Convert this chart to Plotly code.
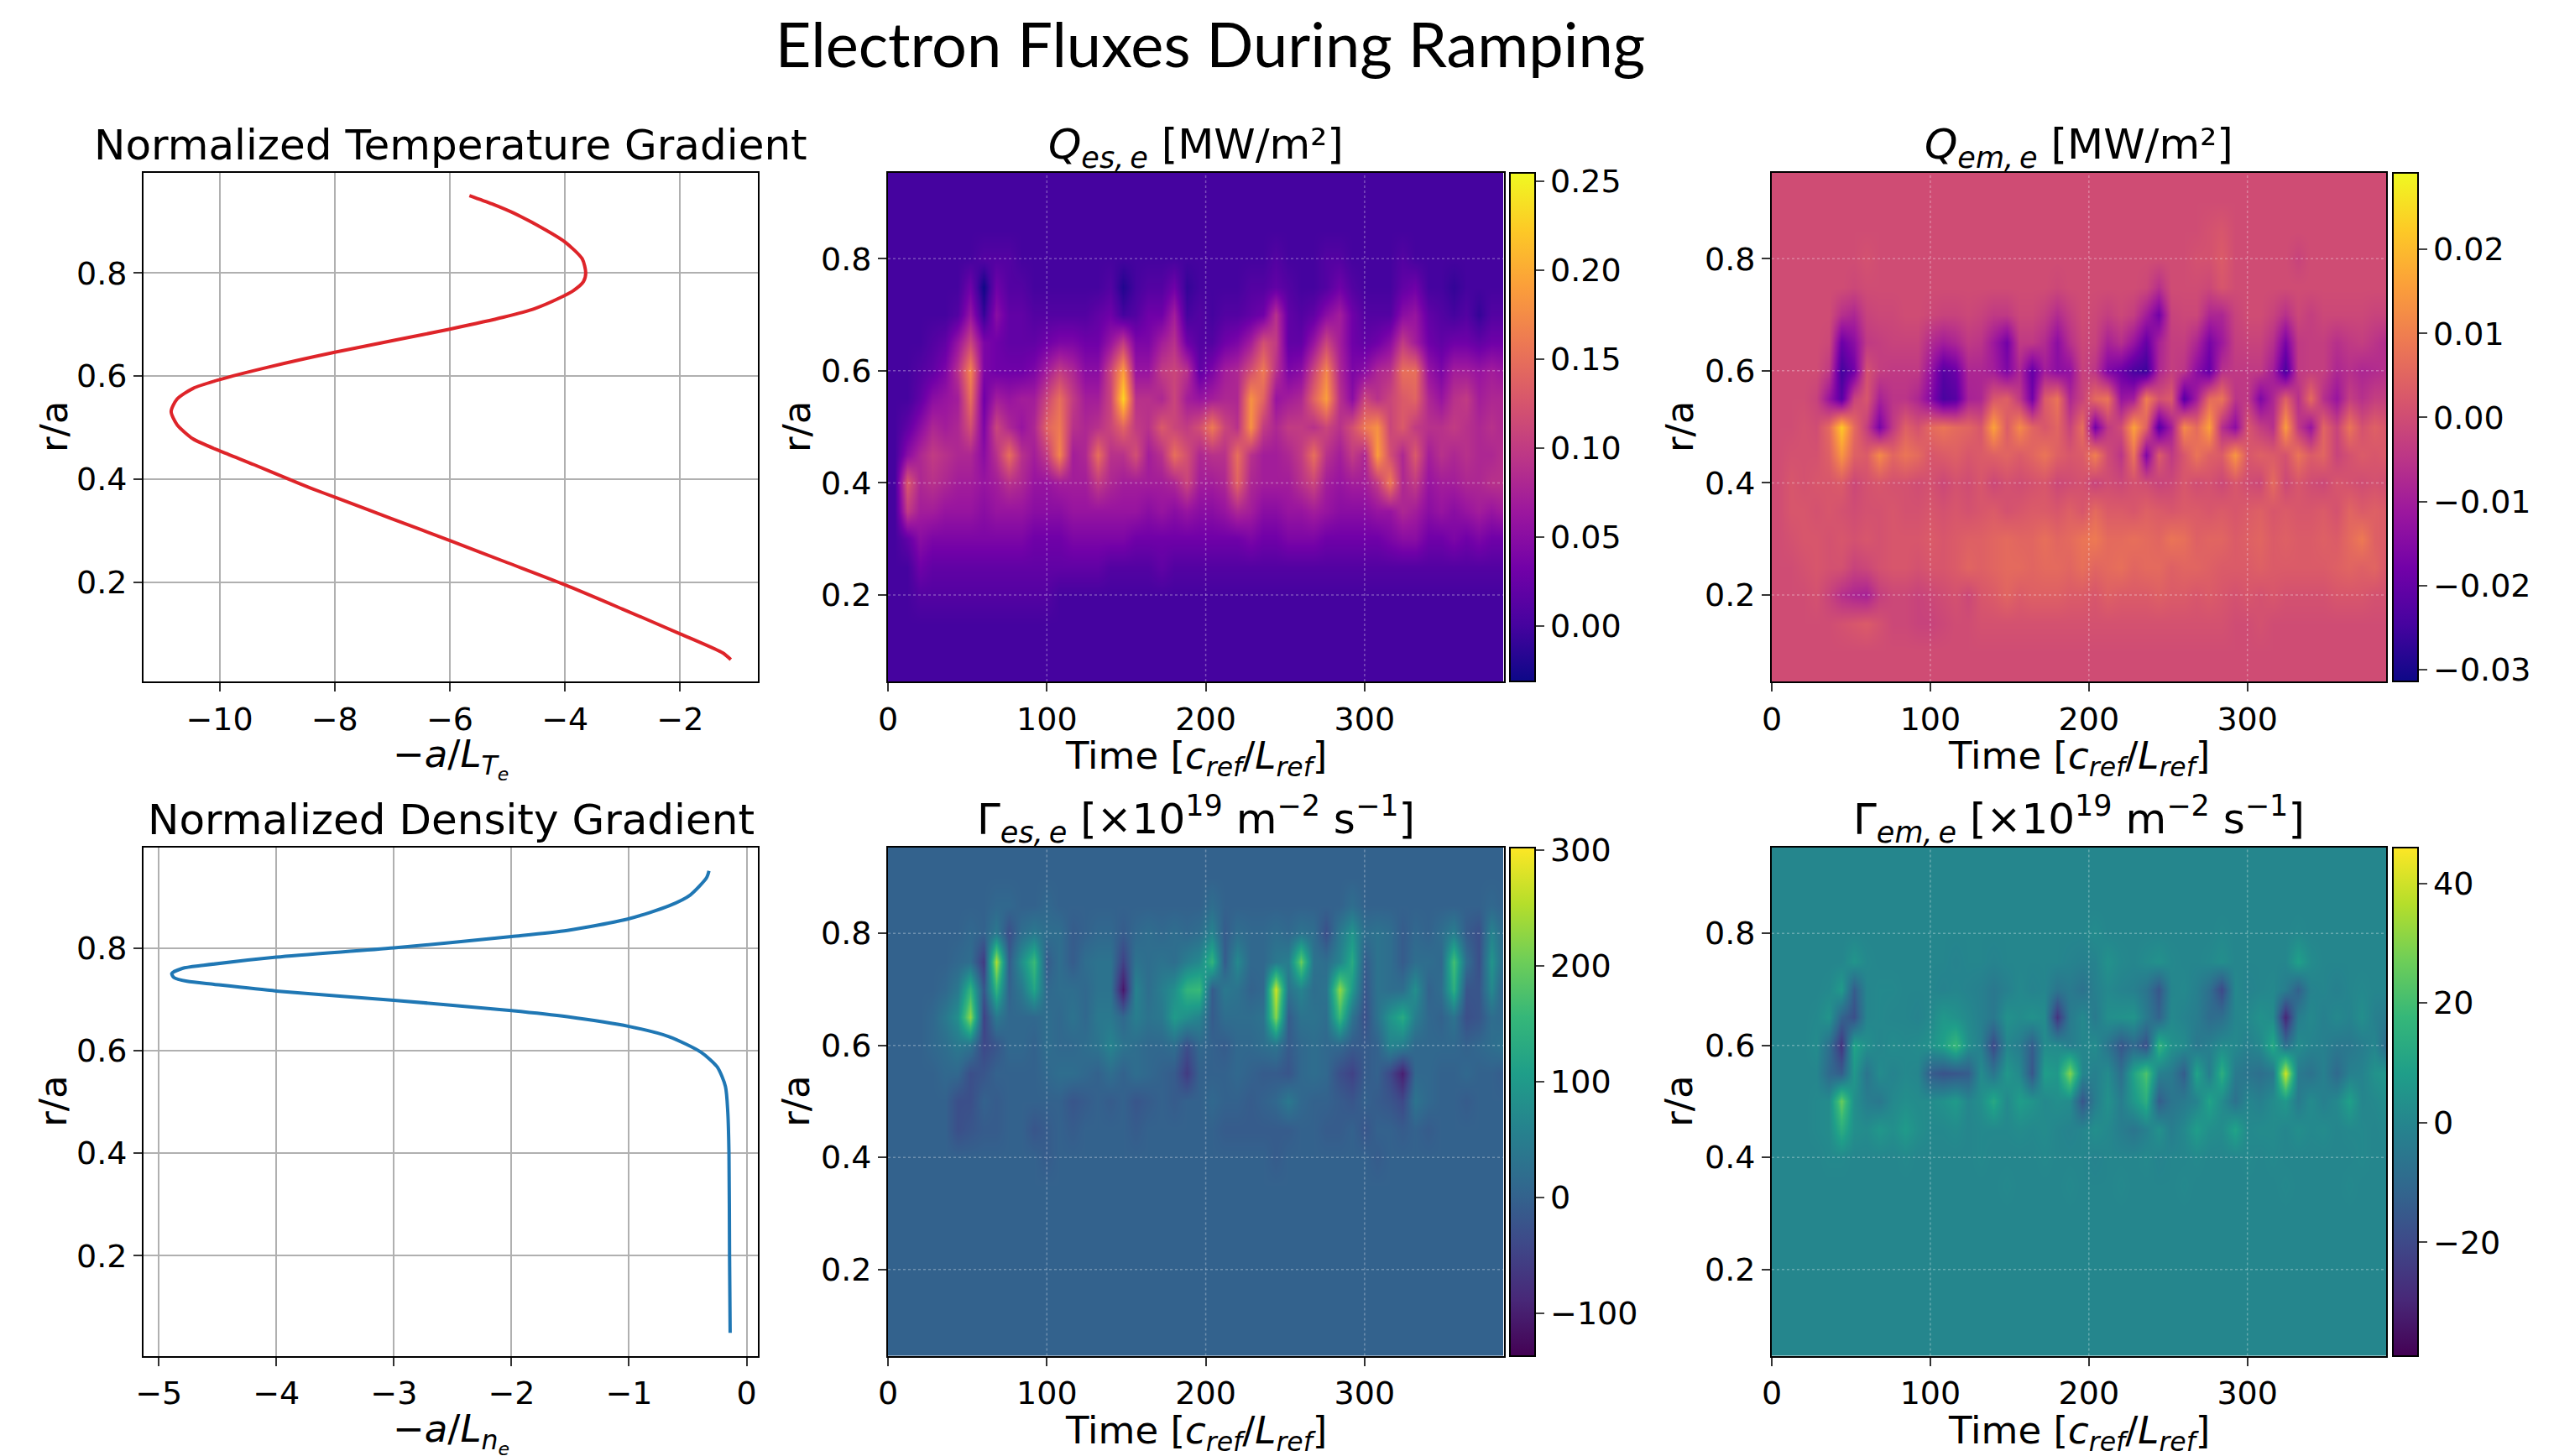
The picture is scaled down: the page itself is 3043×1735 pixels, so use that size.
import numpy as np
import plotly.graph_objects as go

W, H = 3043, 1735
OX, OY = 8, 8          # the page's own margin
FW, FH = W - 16, H - 8
FONT = "DejaVu Sans"

# ---------- profile curves ----------
TE_GRAD = [-5.66, -5.27, -4.89, -4.33, -4.0, -3.7, -3.64, -3.68, -3.85, -4.1, -4.52, -5.07, -6.0, -6.93, -8.0, -9.16, -10.0,
           -10.46, -10.74, -10.84, -10.74, -10.46, -10.0, -9.4, -8.8, -8.4, -8.0, -7.0, -6.0, -5.0, -4.0, -3.0, -2.0, -1.26, -1.12]
TE_R = [0.95, 0.934, 0.916, 0.883, 0.86, 0.827, 0.80, 0.783, 0.766, 0.751, 0.731, 0.714, 0.691, 0.67, 0.646, 0.617, 0.593,
        0.576, 0.555, 0.531, 0.506, 0.478, 0.455, 0.428, 0.40, 0.382, 0.365, 0.323, 0.281, 0.238, 0.195, 0.148, 0.10, 0.063, 0.05]
NE_GRAD = [-0.32, -0.34, -0.48, -0.66, -1.0, -1.525, -2.0, -3.0, -4.0, -4.62, -4.8, -4.89, -4.87, -4.76, -4.53,
           -4.0, -3.0, -2.0, -1.525, -1.0, -0.66, -0.39, -0.25, -0.18, -0.16, -0.15, -0.145, -0.14]
NE_R = [0.95, 0.937, 0.903, 0.882, 0.857, 0.834, 0.822, 0.80, 0.782, 0.766, 0.76, 0.75, 0.742, 0.735, 0.729,
        0.716, 0.698, 0.678, 0.666, 0.647, 0.627, 0.597, 0.568, 0.53, 0.48, 0.40, 0.20, 0.05]

# ---------- heat-map grid ----------
TIME = [4, 12, 20, 28, 36, 44, 52, 60, 68, 76, 84, 92, 100, 108, 116, 124, 132, 140, 148, 156, 164, 172, 180, 188, 196,
        204, 212, 220, 228, 236, 244, 252, 260, 268, 276, 284, 292, 300, 308, 316, 324, 332, 340, 348, 356, 364, 372, 380, 388]
RADIUS = [0.95, 0.90, 0.85, 0.80, 0.75, 0.70, 0.65, 0.60, 0.55, 0.50, 0.45, 0.40, 0.35, 0.30, 0.25, 0.20, 0.15, 0.10, 0.05]
FLAT = [0] * 49

# Q_es, units of 0.01 MW/m2, estimated cell by cell
QES = [
    FLAT, FLAT, FLAT,
    [0,0,0,0,0,0,0, 1,1,1,0,0,0,0, 0,0,0,0,0,0,0, 0,0,0,0,0,0,0, 0,0,1,0,0,0,1, 1,0,0,0,0,1,0, 0,0,0,0,0,0,0],
    [0,0,0,0,0,0,3, -3,3,1,1,0,0,0, 0,0,0,1,-2,0,1, 1,3,-1,0,0,0,0, 1,1,2,1,0,0,1, 3,1,0,0,0,2,3, 0,0,-1,0,0,0,0],
    [0,0,0,0,0,1,6, -1,5,2,2,1,1,1, 1,1,2,3,0,1,3, 3,7,0,1,0,1,1, 2,3,9,2,1,2,5, 7,3,1,1,1,5,6, 2,1,0,1,-1,1,1],
    [0,0,0,1,2,6,11, 4,3,2,2,2,3,4, 4,3,3,6,10,4,4, 7,9,3,1,1,3,4, 7,12,10,2,2,6,11, 7,3,2,3,5,10,7, 3,2,3,3,2,3,3],
    [0,0,1,2,4,9,17, 4,3,3,3,4,7,10, 8,5,5,11,19,6,6, 10,11,9,2,4,7,8, 12,16,9,4,5,11,17, 8,4,5,8,9,15,15, 6,4,7,7,6,7,6],
    [0,0,2,5,6,7,15, 3,7,6,7,7,11,15, 10,7,7,11,23,9,9, 8,11,7,6,7,8,8, 18,14,6,7,8,14,19, 9,5,11,9,11,13,14, 8,6,9,10,7,8,8],
    [0,2,5,8,7,8,12, 4,11,8,6,8,14,16, 9,8,9,11,14,10,9, 13,11,10,12,16,11,9, 18,10,8,10,10,9,11, 9,12,16,18,11,13,10, 9,9,10,9,8,9,8],
    [0,5,8,10,9,8,8, 5,9,15,9,7,10,17, 7,8,15,9,9,12,7, 9,15,12,8,9,9,15, 9,7,7,8,10,15,9, 7,10,8,19,12,8,13, 7,9,8,9,8,8,9],
    [0,13,8,9,8,7,7, 6,7,9,8,6,6,7, 7,7,10,8,7,7,7, 7,8,11,7,7,8,14, 8,7,7,7,9,11,7, 6,7,7,10,16,8,10, 6,7,7,8,8,9,9],
    [0,10,7,7,6,6,6, 5,6,6,6,5,5,5, 6,6,6,6,6,6,5, 6,5,6,5,5,6,8, 7,5,5,6,6,7,6, 5,5,5,6,6,8,7, 5,6,5,6,7,6,7],
    [0,2,5,4,4,4,4, 4,4,4,4,3,3,3, 4,4,4,4,4,3,3, 3,3,3,3,3,3,3, 4,3,3,4,4,4,3, 3,3,3,3,4,5,5, 3,3,4,3,4,3,3],
    [0,0,3,2,2,2,2, 2,2,2,2,2,2,2, 2,2,2,1,1,1,1, 2,1,1,1,1,1,1, 1,1,1,1,1,1,1, 1,1,1,1,1,1,1, 1,1,1,1,1,1,1],
    [0,0,1,1,1,1,1, 1,1,1,1,1,1,0, 0,0,0,0,0,0,0, 0,0,0,0,0,0,0, 0,0,0,0,0,0,0, 0,0,0,0,0,0,0, 0,0,0,0,0,0,0],
    FLAT, FLAT, FLAT,
]

# Q_em, units of 0.001 MW/m2
QEM = [
    FLAT, FLAT,
    [0,0,0,0,0,0,0, 0,0,0,0,0,0,0, 0,0,0,0,0,0,0, 0,0,0,0,0,0,0, 0,0,0,0,0,0,1, 2,0,0,0,0,0,0, 0,0,0,0,0,0,0],
    [0,0,0,0,0,0,0, 1,0,0,0,0,0,0, 0,0,0,0,0,0,0, 0,0,0,0,0,0,0, 0,0,0,0,0,1,1, 3,0,0,0,0,0,-2, 0,0,0,0,0,0,0],
    [0,0,0,0,0,0,-1, 0,0,0,0,0,0,0, 0,0,0,0,0,0,0, 0,-1,0,0,0,0,0, 0,-1,-6,0,0,0,-1, 2,0,0,0,0,0,0, 0,0,0,0,0,0,0],
    [0,0,0,0,0,-6,-8, -2,-1,-1,0,0,-1,-2, -2,-1,-2,-4,-4,-1,-1, -3,-7,-3,0,-1,-3,-1, -3,-10,-18,-2,-1,-1,-8, -8,-2,0,0,-2,-6,-1, -3,-1,-1,-1,-1,-2,-2],
    [0,0,0,0,-1,-19,-14, -4,-3,-2,-2,-2,-7,-10, -8,-4,-5,-11,-18,-4,-4, -7,-14,-6,-1,-2,-9,-6, -12,-20,-9,-3,-3,-8,-17, -11,-3,-2,-2,-6,-17,-4, -3,-3,-6,-4,-3,-5,-7],
    [0,0,0,0,-4,-25,-18, 1,-3,-4,-4,-4,-12,-22, -19,-8,-8,-10,-16,-8,-20, -10,-14,-13,-2,-5,-16,-19, -24,-26,-8,-3,-5,-14,-20, -6,-4,-4,-4,-10,-24,-4, -3,-3,-8,-6,-8,-7,-6],
    [0,0,0,-2,-12,-22,-2, 2,-9,-5,-5,-8,-15,-24, -22,-9,-8,2,4,-4,-18, 3,8,-8,-2,6,8,-12, -10,10,1,3,-22,-10,6, 8,-5,-4,-16,-8,4,-6, 6,-6,-12,-3,-6,-3,-3],
    [0,0,1,0,6,22,6, -3,-17,-4,4,1,6,8, 6,5,2,16,3,12,5, 2,5,-2,7,-18,-4,0, 16,4,-22,-10,12,6,16, -6,-14,2,-3,-6,15,-4, -12,5,-2,8,1,4,2],
    [0,1,1,1,4,14,4, 3,12,5,8,6,2,3, 4,2,3,4,5,3,5, 8,4,2,3,10,0,-5, 8,-16,3,-4,2,8,4, 3,14,2,4,3,1,8, 3,5,-2,1,3,2,3],
    [0,2,1,2,2,3,-1, 1,2,1,1,0,1,-1, 1,0,2,-1,1,0,1, 2,-1,0,1,-2,0,-1, 1,0,-2,-1,2,0,1, -1,2,0,-1,6,-1,2, 0,-1,2,1,0,1,0],
    [0,2,2,1,2,1,0, 1,1,2,1,1,2,1, 2,1,2,3,1,2,3, 3,2,4,2,6,3,3, 2,4,3,2,3,3,2, 3,2,3,4,2,3,2, 2,3,1,5,3,4,3],
    [0,1,2,2,1,2,1, 2,1,2,2,2,3,2, 3,4,4,5,6,5,5, 7,5,6,8,9,6,6, 7,6,5,8,7,4,5, 5,3,4,5,3,4,3, 3,4,3,6,9,4,3],
    [0,0,1,2,1,1,-2, -1,1,2,2,1,2,2, 3,5,4,5,6,6,5, 6,6,5,7,5,6,7, 5,6,6,4,5,5,4, 3,3,3,4,3,3,3, 3,3,4,5,4,5,2],
    [0,0,0,1,-2,-6,-8, -9,-3,-1,-1,-2,-1,0, 1,-1,2,3,5,3,4, 4,4,3,3,2,4,3, 3,3,4,3,3,2,3, 2,1,2,1,2,1,1, 1,1,2,2,2,1,1],
    [0,0,0,0,0,1,2, 3,1,-1,-1,-2,-2,-1, 0,0,1,1,1,1,1, 1,1,1,1,1,1,1, 1,1,1,1,1,1,1, 1,0,0,1,0,0,0, 0,0,0,0,0,0,0],
    FLAT, FLAT,
]

# Gamma_es, units of 10 x 10^19 m-2 s-1
GES = [
    FLAT, FLAT,
    [0,0,0,0,0,0,0, 0,1,1,0,0,1,0, 0,0,0,0,0,0,0, 0,0,0,0,2,0,0, 0,0,0,0,0,0,0, 0,2,0,0,0,0,0, 0,0,0,0,0,1,0],
    [0,0,0,0,0,0,1, 0,4,-3,2,4,2,2, -1,0,1,1,-1,1,2, 1,2,1,2,6,-1,2, 1,1,2,1,3,2,-3, 4,9,2,3,2,-1,1, 0,2,5,-1,-3,6,1],
    [0,0,0,0,0,1,2, -6,25,-1,8,16,-1,2, -1,2,3,3,-5,3,2, 3,2,5,7,15,-1,7, 1,1,4,5,20,3,2, 6,13,-1,3,2,-1,2, 2,1,17,2,-3,9,1],
    [0,0,0,0,1,4,15, -2,15,0,4,12,1,2, 2,1,3,3,-11,6,2, 5,8,15,16,-1,4,3, 0,1,27,3,6,2,3, 23,10,-2,3,2,2,8, 0,2,14,-2,-2,7,-1],
    [0,0,0,1,4,8,23, -5,4,1,1,1,2,1, 3,1,4,4,1,5,3, 4,10,8,6,-1,2,2, 2,3,22,-1,3,3,2, 16,3,-3,3,9,13,5, 1,0,3,-3,-2,2,1],
    [0,0,0,1,2,4,3, -4,-2,1,1,0,2,1, 1,2,3,6,3,2,1, 1,2,-3,1,0,-1,1, 1,2,3,-1,1,2,1, 1,-1,-1,0,6,5,1, 1,1,1,0,1,2,3],
    [0,0,0,0,1,1,-3, -2,0,0,0,0,1,2, 2,1,0,2,0,2,1, 0,-1,-6,0,0,0,1, 0,-1,-1,-2,1,2,1, -3,-5,-1,0,-4,-10,1, 1,0,0,1,0,0,-1],
    [0,0,0,0,0,-3,-3, 0,-1,0,0,0,0,0, -2,-1,0,-1,0,-2,-1, 0,-1,0,0,1,0,0, -1,0,1,4,1,0,0, -1,-2,0,-1,-2,-4,3, 1,0,0,-1,0,0,0],
    [0,0,0,0,0,-3,-2, -1,-1,0,0,-2,-1,0, -1,0,0,0,0,-1,0, 0,0,0,0,0,-1,-1, -1,-1,-1,-1,0,0,-1, -1,0,-2,0,0,-1,0, -1,0,0,0,0,0,0],
    [0,0,0,0,0,0,0, 0,0,0,0,0,-1,0, 0,0,0,0,0,0,0, 0,0,0,0,0,0,0, 0,0,-1,0,0,0,0, 0,0,0,-1,0,0,0, 0,0,0,0,0,0,0],
    FLAT, FLAT, FLAT, FLAT, FLAT, FLAT, FLAT,
]

# Gamma_em, units of 10^19 m-2 s-1
GEM = [
    FLAT, FLAT, FLAT,
    [0,0,0,0,0,0,0, 0,0,0,0,0,0,0, 0,0,0,0,0,0,0, 0,0,0,0,2,0,0, 0,0,0,0,0,0,0, 1,0,0,0,0,0,1, 0,0,0,0,0,0,0],
    [0,0,0,0,0,0,5, 1,0,0,0,0,0,0, -1,0,0,-1,0,0,0, 0,0,-1,-2,-1,4,1, 0,2,4,1,0,0,1, 3,0,0,0,0,0,9, 2,0,0,0,0,0,0],
    [0,0,0,0,1,7,-14, 0,1,1,0,0,0,-1, 0,-1,-2,-5,-2,1,-1, 0,-6,-4,-7,-2,1,-1, -2,-6,-16,0,1,-2,-8, -20,1,-1,0,1,-3,-13, -1,0,-2,0,1,0,0],
    [0,0,0,1,5,-12,-18, 0,1,0,0,-1,1,6, 4,1,-2,-5,4,2,4, 2,-26,-4,1,-4,3,4, 5,-4,-12,1,-1,-3,-9, -8,0,1,4,2,-30,-3, 1,-2,1,-1,3,-2,-4],
    [0,0,0,2,-8,-26,10, 3,0,2,1,2,4,9, 18,3,-2,-20,0,-3,-14, 2,2,-3,0,2,-6,-16, -10,-18,16,4,2,-5,-2, 2,1,-2,1,12,-8,2, -1,-2,-5,-5,-3,0,-10],
    [0,0,0,0,-10,-14,6, -6,2,-1,1,0,-14,-17, -16,-14,2,-6,6,1,-16, 8,6,30,0,-2,2,-8, 10,22,-2,-4,-14,10,-3, 14,-4,-6,-8,-5,40,-4, -7,-2,-10,-2,-1,4,6],
    [0,0,0,1,2,26,3, -3,-5,1,3,2,2,4, 7,0,3,12,1,8,5, 1,3,2,-16,-3,4,-3, 6,14,-14,-6,-4,-1,10, 2,-7,0,-2,2,6,-4, 2,-2,1,9,0,1,3],
    [0,0,0,1,2,14,3, 2,6,3,7,3,1,1, 2,0,1,1,1,2,1, 2,0,-1,0,3,1,-3, -6,-2,4,-3,1,8,3, 2,10,1,2,2,0,3, 1,2,0,1,1,0,1],
    [0,0,0,0,1,1,0, 0,0,0,1,0,0,0, 0,0,1,0,0,0,0, 1,0,0,0,-1,0,0, 0,1,-1,0,0,1,0, 0,0,1,0,1,0,0, 0,0,0,0,1,0,0],
    [0,0,0,0,0,0,0, 0,0,0,0,0,0,0, 0,0,0,0,1,0,0, 0,0,1,0,0,0,1, 0,0,0,0,1,0,0, 0,0,0,0,0,1,0, 0,0,0,1,0,0,0],
    FLAT, FLAT, FLAT, FLAT, FLAT, FLAT,
]

# ---------- ticks ----------
TIME_TICKS = [0, 100, 200, 300]
R_TICKS = [0.2, 0.4, 0.6, 0.8]
TE_TICKS = [-10, -8, -6, -4, -2]
NE_TICKS = [-5, -4, -3, -2, -1, 0]
QES_TICKS = [0.0, 0.05, 0.10, 0.15, 0.20, 0.25]
QEM_TICKS = [-0.03, -0.02, -0.01, 0.0, 0.01, 0.02]
GES_TICKS = [-100, 0, 100, 200, 300]
GEM_TICKS = [-20, 0, 20, 40]

# ---------- layout in pixels of the photographed page ----------
COLS = [(171, 903), (1058, 1791.5), (2111, 2843)]
ROWS = [(206, 812), (1010, 1615.5)]
CB_X = [1799, 2851]
YLABEL_X = [64, 949, 2001]
XLABEL_Y = [903, 1707]
TICK_FS, LABEL_FS, TITLE_FS = 38, 45, 50


def px(x):
    return (x - OX) / FW


def py(y):
    return 1 - (y - OY) / FH


def dom_x(a, b):
    return [px(a), px(b)]


def dom_y(top, bot):
    return [py(bot), py(top)]


fig = go.Figure()
BASE = dict(showline=True, mirror=True, linecolor="black", linewidth=2, ticks="outside", ticklen=10, tickwidth=2,
            tickcolor="#333333", tickfont=dict(family=FONT, size=TICK_FS, color="black"), zeroline=False)
T_LABEL = "Time [<i>c<sub>ref</sub></i>/<i>L<sub>ref</sub></i>]"
LABEL_FONT = dict(family=FONT, size=LABEL_FS, color="black")


def add_text(col, row, title, title_pad, xlabel):
    a, b = COLS[col]
    top, bot = ROWS[row]
    fig.add_annotation(xref="paper", yref="paper", x=px((a + b) / 2), y=py(top - title_pad), yanchor="bottom",
                       xanchor="center", showarrow=False, text=title, font=dict(family=FONT, size=TITLE_FS, color="black"))
    fig.add_annotation(xref="paper", yref="paper", x=px((a + b) / 2), y=py(XLABEL_Y[row]), yanchor="middle",
                       xanchor="center", showarrow=False, text=xlabel, font=LABEL_FONT)
    fig.add_annotation(xref="paper", yref="paper", x=px(YLABEL_X[col]), y=py((top + bot) / 2), yanchor="middle",
                       xanchor="center", showarrow=False, text="r/a", textangle=-90, font=LABEL_FONT)


def line_panel(n, col, row, xs, ys, color, xr, yr, xticks, xlabel, title):
    ax = "" if n == 1 else str(n)
    fig.add_trace(go.Scatter(x=xs, y=ys, mode="lines", xaxis="x" + ax, yaxis="y" + ax, showlegend=False,
                             line=dict(color=color, width=4, shape="spline", smoothing=0.7)))
    fig.layout["xaxis" + ax] = dict(BASE, domain=dom_x(*COLS[col]), range=xr, tickvals=xticks, showgrid=True,
                                    gridcolor="#b0b0b0", gridwidth=2, anchor="y" + ax)
    fig.layout["yaxis" + ax] = dict(BASE, domain=dom_y(*ROWS[row]), range=yr, tickvals=R_TICKS, tickformat=".1f",
                                    showgrid=True, gridcolor="#b0b0b0", gridwidth=2, anchor="x" + ax)
    add_text(col, row, title, 2, xlabel)


def heat_panel(n, col, row, rows, scale, cmap, zr, cb_ticks, cb_fmt, title):
    ax = str(n)
    z = np.flipud(np.array(rows, dtype=float)) * scale
    top, bot = ROWS[row]
    fig.add_trace(go.Heatmap(x=TIME, y=RADIUS[::-1], z=z, colorscale=cmap, zmin=zr[0], zmax=zr[1], zsmooth="best",
                             xaxis="x" + ax, yaxis="y" + ax,
                             colorbar=dict(x=px(CB_X[col - 1]), xanchor="left", xpad=0, ypad=0, thickness=30,
                                           lenmode="fraction", len=(bot - top) / FH, y=py((top + bot) / 2),
                                           yanchor="middle", outlinecolor="black", outlinewidth=2, ticks="outside",
                                           ticklen=10, tickwidth=2, tickvals=cb_ticks, tickformat=cb_fmt,
                                           tickfont=dict(family=FONT, size=TICK_FS, color="black"))))
    fig.layout["xaxis" + ax] = dict(BASE, domain=dom_x(*COLS[col]), range=[0, 387.5], tickvals=TIME_TICKS, showgrid=False,
                                    anchor="y" + ax)
    fig.layout["yaxis" + ax] = dict(BASE, domain=dom_y(*ROWS[row]), range=[0.046, 0.953], tickvals=R_TICKS, tickformat=".1f",
                                    showgrid=False, anchor="x" + ax)
    grid = dict(color="rgba(255,255,255,0.3)", width=1.5, dash="dot")
    for t in TIME_TICKS[1:]:
        fig.add_shape(type="line", xref="x" + ax, yref="y" + ax + " domain", x0=t, x1=t, y0=0, y1=1, line=grid)
    for r in R_TICKS:
        fig.add_shape(type="line", xref="x" + ax + " domain", yref="y" + ax, x0=0, x1=1, y0=r, y1=r, line=grid)
    add_text(col, row, title, -4, T_LABEL)


line_panel(1, 0, 0, TE_GRAD, TE_R, "#de2429", [-11.32, -0.65], [0.0077, 0.994], TE_TICKS,
           "\u2212<i>a</i>/<i>L<sub>T<sub>e</sub></sub></i>", "Normalized Temperature Gradient")
line_panel(2, 0, 1, NE_GRAD, NE_R, "#1f77b4", [-5.13, 0.096], [0.0053, 0.9955], NE_TICKS,
           "\u2212<i>a</i>/<i>L<sub>n<sub>e</sub></sub></i>", "Normalized Density Gradient")
heat_panel(3, 1, 0, QES, 0.01, "Plasma", [-0.0313, 0.2548], QES_TICKS, ".2f", "<i>Q<sub>es,\u2009e</sub></i> [MW/m\u00b2]")
heat_panel(4, 2, 0, QEM, 0.001, "Plasma", [-0.0314, 0.0291], QEM_TICKS, ".2f", "<i>Q<sub>em,\u2009e</sub></i> [MW/m\u00b2]")
heat_panel(5, 1, 1, GES, 10, "Viridis", [-137, 302], GES_TICKS, "d",
           "\u0393<i><sub>es,\u2009e</sub></i> [\u00d710<sup>19</sup> m<sup>\u22122</sup> s<sup>\u22121</sup>]")
heat_panel(6, 2, 1, GEM, 1, "Viridis", [-39, 46], GEM_TICKS, "d",
           "\u0393<i><sub>em,\u2009e</sub></i> [\u00d710<sup>19</sup> m<sup>\u22122</sup> s<sup>\u22121</sup>]")

fig.update_layout(width=FW, height=FH, autosize=False, margin=dict(l=0, r=0, t=0, b=0, autoexpand=False),
                  paper_bgcolor="white", plot_bgcolor="white", showlegend=False,
                  title=dict(text="Electron Fluxes During Ramping", x=px(1442), xanchor="center", y=py(54),
                             yanchor="middle", font=dict(family="Lato", size=74, color="black")))
fig.write_html("out.html")
